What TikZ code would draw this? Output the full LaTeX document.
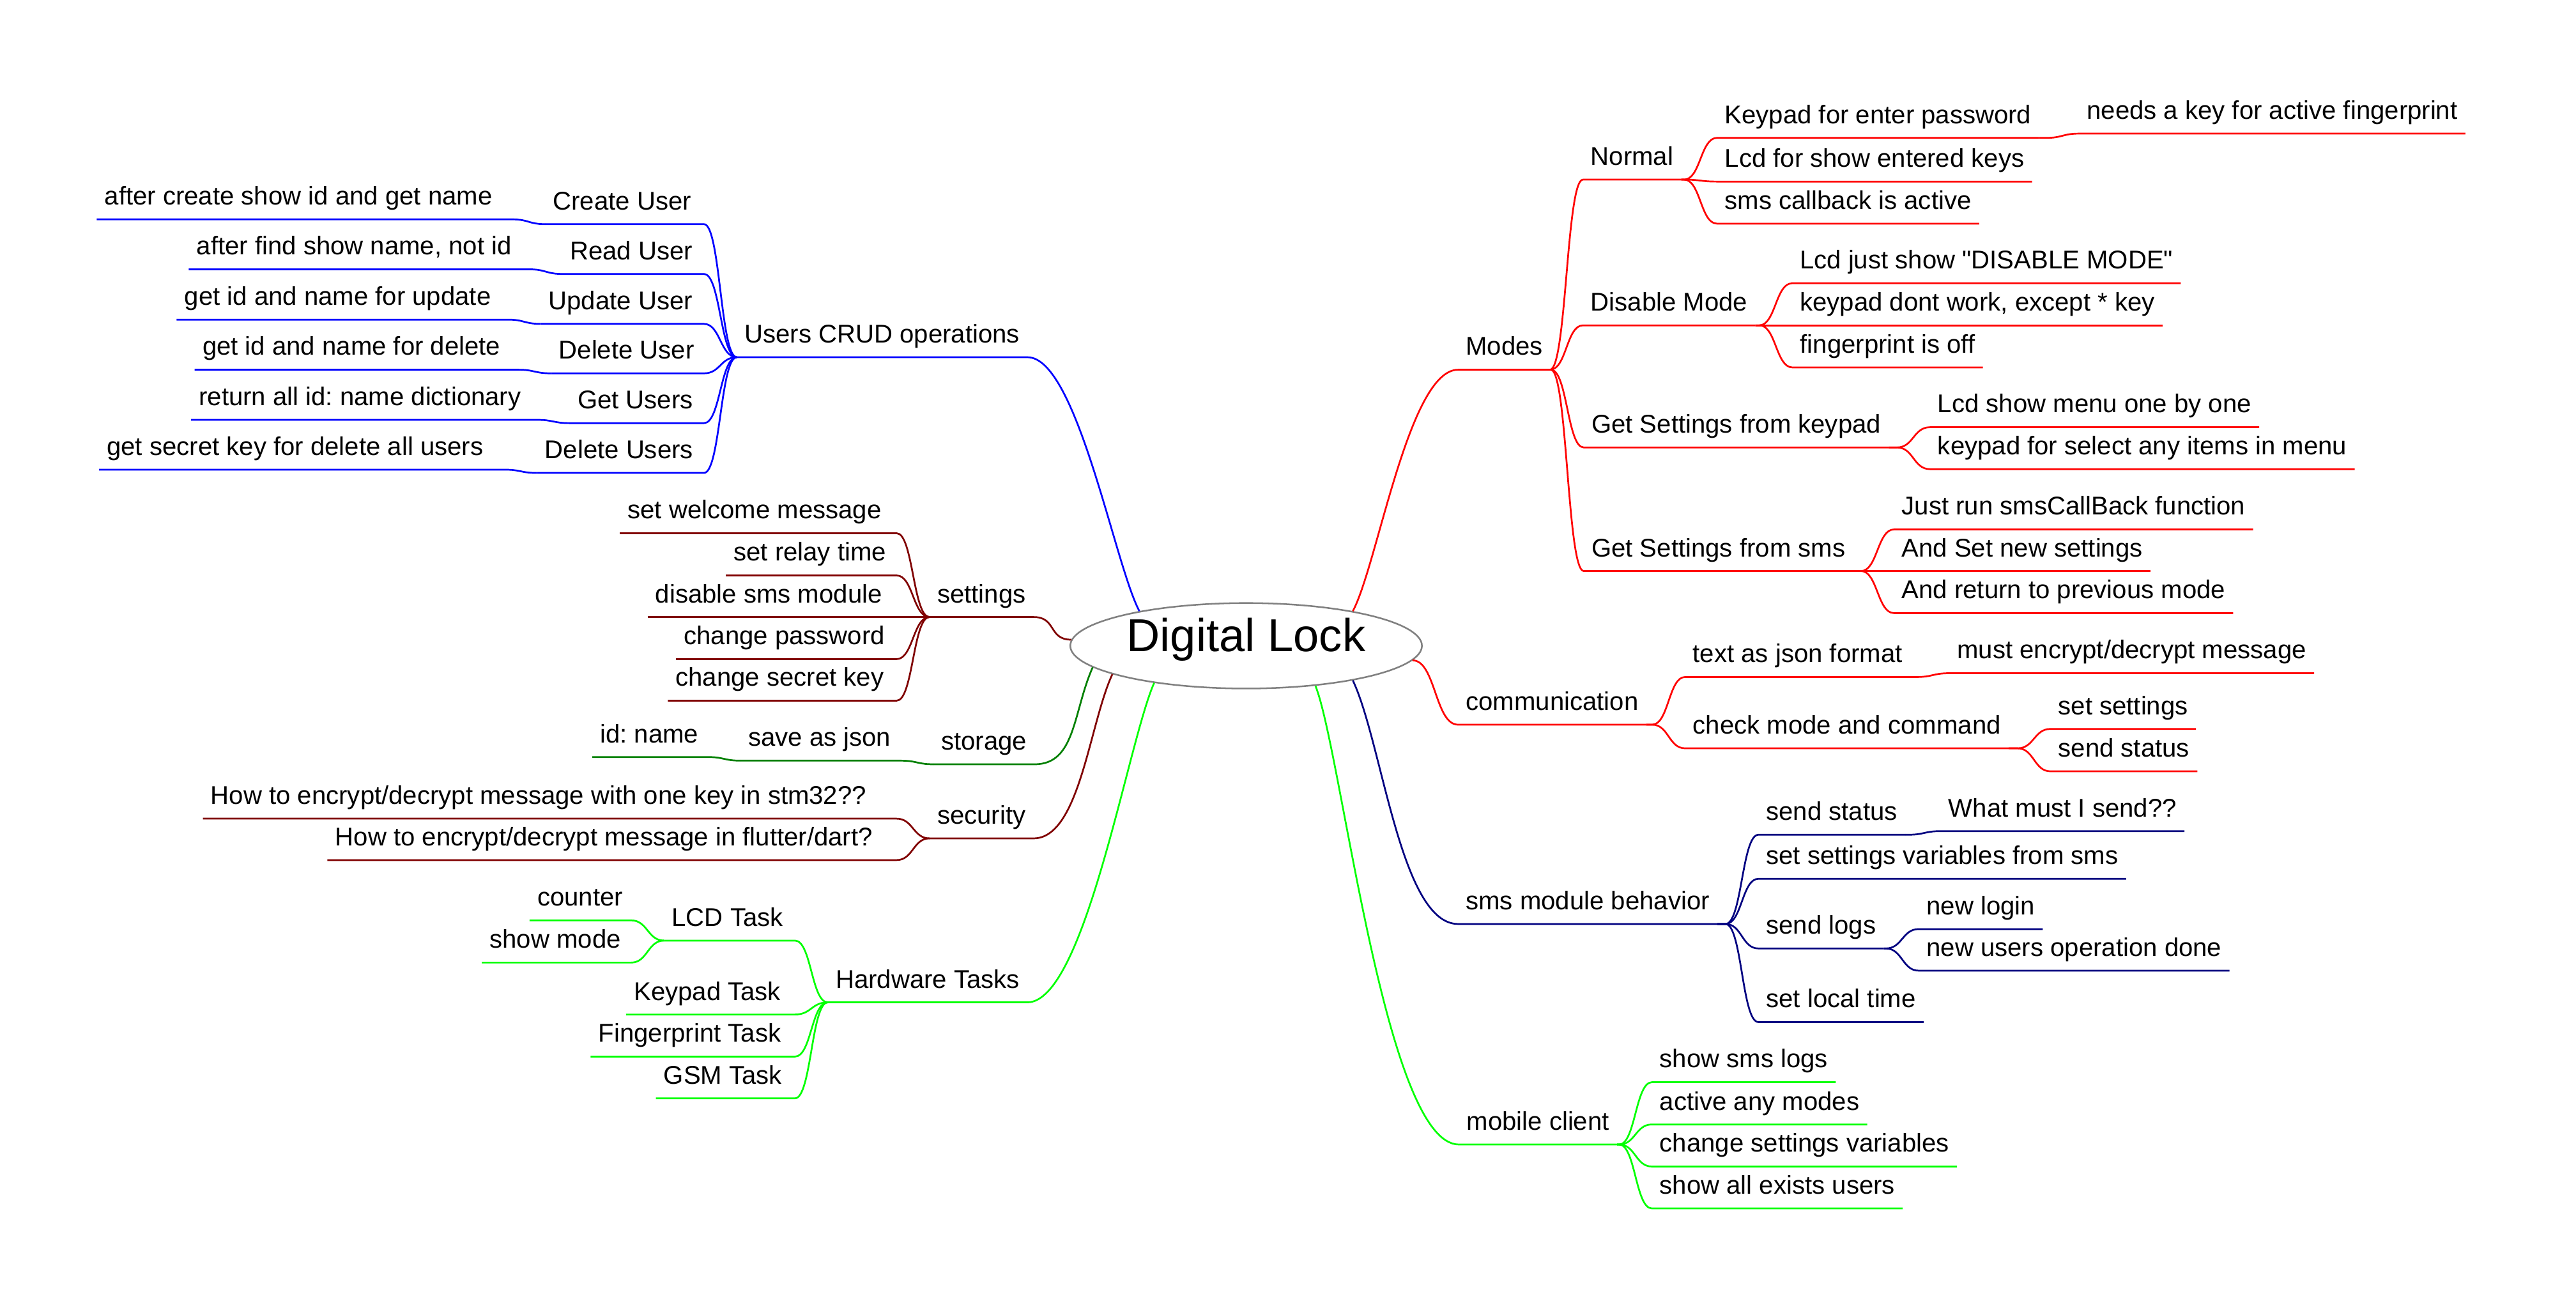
\documentclass[tikz,border=0pt]{standalone}
\usepackage{fontspec}
\setmainfont{Liberation Sans}[Ligatures=TeXOff]
\usetikzlibrary{shapes.geometric,calc}
\definecolor{mmblue}{RGB}{0,0,255}
\definecolor{mmred}{RGB}{255,0,0}
\definecolor{mmnavy}{RGB}{0,0,128}
\definecolor{mmlime}{RGB}{0,255,0}
\definecolor{mmgreen}{RGB}{0,128,0}
\definecolor{mmmaroon}{RGB}{128,0,0}
\newcommand{\topicfont}{\fontsize{11.1}{13}\selectfont\frenchspacing}
\tikzset{
  hub/.style={ellipse, draw=gray, fill=white, line width=0.7pt, inner sep=0pt,
    minimum width=5.35cm, minimum height=1.3cm, text height=14.6pt, text depth=9.4pt,
    font=\fontsize{20}{24}\selectfont},
  topic/.style={anchor=south west, inner xsep=0.1125cm, inner ysep=0.2125cm,
    text depth=0pt, xshift=-0.1125cm, font=\topicfont},
  rfork/.style={to path={let \p1=(\tikztostart), \p2=(\tikztotarget.south west) in
    -- (\x2-0.5cm,\y1) .. controls (\x2-0.25cm,\y1) and (\x2-0.25cm,\y2) .. (\p2)
    -- (\tikztotarget.south east)}},
  lfork/.style={to path={let \p1=(\tikztostart), \p2=(\tikztotarget.south east) in
    (\tikztotarget.south west) -- (\p2) -- (\x1-0.5cm,\y2)
    .. controls (\x1-0.25cm,\y2) and (\x1-0.25cm,\y1) .. (\p1)}},
  rmain/.style 2 args={to path={.. controls +(#1) and +(#2) .. (\tikztotarget.south west) -- (\tikztotarget.south east)}},
  lmain/.style 2 args={to path={.. controls +(#1) and +(#2) .. (\tikztotarget.south east) -- (\tikztotarget.south west)}}
}
\begin{document}
\begin{tikzpicture}[x=0.025cm, y=-0.025cm]
	\useasboundingbox (0,0) rectangle (1568,797);
	\node[hub] (lock) at (758.5,393) {Digital Lock};
	\begin{scope}[every node/.style={topic}]
		% right side
		\node (modes) at (892,225) {Modes};
		\node (normal) at (968,109.3) {Normal};
		\node (keypad) at (1049.6,83.9) {Keypad for enter password};
		\node (needs) at (1270,81.3) {needs a key for active fingerprint};
		\node (lcdkeys) at (1049.6,110.5) {Lcd for show entered keys};
		\node (callback) at (1049.6,136.1) {sms callback is active};
		\node (disable) at (968,198) {Disable Mode};
		\node (lcddis) at (1095.3,172.4) {Lcd just show "DISABLE MODE"};
		\node (keydis) at (1095.3,198) {keypad dont work, except * key};
		\node (fpoff) at (1095.5,223.6) {fingerprint is off};
		\node (setkey) at (968.5,272.3) {Get Settings from keypad};
		\node (menu) at (1179.2,260) {Lcd show menu one by one};
		\node (select) at (1179.2,285.5) {keypad for select any items in menu};
		\node (setsms) at (968.5,347.5) {Get Settings from sms};
		\node (callbackfn) at (1157.3,322.2) {Just run smsCallBack function};
		\node (newset) at (1157.3,347.5) {And Set new settings};
		\node (prevmode) at (1157.3,373.1) {And return to previous mode};
		\node (comm) at (892,441) {communication};
		\node (json) at (1030.2,412) {text as json format};
		\node (encrypt) at (1191,409.7) {must encrypt/decrypt message};
		\node (check) at (1030.2,455.4) {check mode and command};
		\node (setset) at (1252.6,443.6) {set settings};
		\node (sendstat) at (1252.6,469.4) {send status};
		\node (sms) at (892,562.3) {sms module behavior};
		\node (status) at (1074.8,508) {send status};
		\node (what) at (1185.8,505.8) {What must I send??};
		\node (vars) at (1074.8,534.8) {set settings variables from sms};
		\node (logs) at (1074.8,577.2) {send logs};
		\node (login) at (1172.4,565.4) {new login};
		\node (usersop) at (1172.4,590.7) {new users operation done};
		\node (time) at (1074.8,622) {set local time};
		\node (mobile) at (892.5,696.5) {mobile client};
		\node (smslogs) at (1010,658.6) {show sms logs};
		\node (anymode) at (1010,684.3) {active any modes};
		\node (changevars) at (1010,709.9) {change settings variables};
		\node (allusers) at (1010,735.4) {show all exists users};
		% left side
		\node (crud) at (453,217.4) {Users CRUD operations};
		\node (create) at (336.3,136.4) {Create User};
		\node (createn) at (63.4,133.5) {after create show id and get name};
		\node (read) at (346.7,166.7) {Read User};
		\node (readn) at (119.4,163.9) {after find show name, not id};
		\node (update) at (333.6,197.1) {Update User};
		\node (updaten) at (112,194.5) {get id and name for update};
		\node (delete) at (339.9,227.2) {Delete User};
		\node (deleten) at (123,225) {get id and name for delete};
		\node (getall) at (351.3,257.5) {Get Users};
		\node (getalln) at (120.8,255.5) {return all id: name dictionary};
		\node (delall) at (331.4,287.8) {Delete Users};
		\node (delalln) at (64.8,285.8) {get secret key for delete all users};
		\node (settings) at (570.3,375.5) {settings};
		\node (welcome) at (381.8,324.5) {set welcome message};
		\node (relay) at (446.3,350.2) {set relay time};
		\node (smsoff) at (398.7,375.5) {disable sms module};
		\node (passwd) at (416,401.1) {change password};
		\node (secret) at (411,426.4) {change secret key};
		\node (storage) at (572.7,465.1) {storage};
		\node (savejson) at (455.2,462.9) {save as json};
		\node (idname) at (365,460.7) {id: name};
		\node (security) at (570.3,510.2) {security};
		\node (stm) at (128,498.2) {How to encrypt/decrypt message with one key in stm32??};
		\node (flutter) at (203.8,523.4) {How to encrypt/decrypt message in flutter/dart?};
		\node (hw) at (508.4,610) {Hardware Tasks};
		\node (lcd) at (408.7,572.4) {LCD Task};
		\node (counter) at (326.8,560.1) {counter};
		\node (showmode) at (297.8,585.8) {show mode};
		\node (keypadt) at (385.6,617.4) {Keypad Task};
		\node (finger) at (364,643) {Fingerprint Task};
		\node (gsm) at (403.7,668.4) {GSM Task};
	\end{scope}
	\begin{scope}[line width=0.75pt, line join=round]
		% right side
		\path[mmred] (lock.18) edge[rmain={15,-28}{-30,0}] (modes)
			(lock.-5) edge[rmain={14,0}{-14,0}] (comm);
		\path[mmred] (modes.south east)
			edge[rfork] (normal)
			edge[rfork] (disable)
			edge[rfork] (setkey)
			edge[rfork] (setsms);
		\path[mmred] (normal.south east)
			edge[rfork] (keypad)
			edge[rfork] (lcdkeys)
			edge[rfork] (callback);
		\path[mmred] (keypad.south east) edge[rfork] (needs);
		\path[mmred] (disable.south east)
			edge[rfork] (lcddis)
			edge[rfork] (keydis)
			edge[rfork] (fpoff);
		\path[mmred] (setkey.south east)
			edge[rfork] (menu)
			edge[rfork] (select);
		\path[mmred] (setsms.south east)
			edge[rfork] (callbackfn)
			edge[rfork] (newset)
			edge[rfork] (prevmode);
		\path[mmred] (comm.south east)
			edge[rfork] (json)
			edge[rfork] (check);
		\path[mmred] (json.south east) edge[rfork] (encrypt);
		\path[mmred] (check.south east)
			edge[rfork] (setset)
			edge[rfork] (sendstat);
		\path[mmnavy] (lock.-18) edge[rmain={18,38}{-35,0}] (sms);
		\path[mmnavy] (sms.south east)
			edge[rfork] (status)
			edge[rfork] (vars)
			edge[rfork] (logs)
			edge[rfork] (time);
		\path[mmnavy] (status.south east) edge[rfork] (what);
		\path[mmnavy] (logs.south east)
			edge[rfork] (login)
			edge[rfork] (usersop);
		\path[mmlime] (lock.-30) edge[rmain={16,40}{-45,0}] (mobile);
		\path[mmlime] (mobile.south east)
			edge[rfork] (smslogs)
			edge[rfork] (anymode)
			edge[rfork] (changevars)
			edge[rfork] (allusers);
		% left side
		\path[mmblue] (lock.162) edge[lmain={-15,-28}{30,0}] (crud);
		\path[mmblue] (crud.south west)
			edge[lfork] (create)
			edge[lfork] (read)
			edge[lfork] (update)
			edge[lfork] (delete)
			edge[lfork] (getall)
			edge[lfork] (delall);
		\path[mmblue] (create.south west) edge[lfork] (createn);
		\path[mmblue] (read.south west) edge[lfork] (readn);
		\path[mmblue] (update.south west) edge[lfork] (updaten);
		\path[mmblue] (delete.south west) edge[lfork] (deleten);
		\path[mmblue] (getall.south west) edge[lfork] (getalln);
		\path[mmblue] (delall.south west) edge[lfork] (delalln);
		\path[mmmaroon] (lock.178) edge[lmain={-14,0}{14,0}] (settings);
		\path[mmmaroon] (settings.south west)
			edge[lfork] (welcome)
			edge[lfork] (relay)
			edge[lfork] (smsoff)
			edge[lfork] (passwd)
			edge[lfork] (secret);
		\path[mmgreen] (lock.188) edge[lmain={-12,27}{25,0}] (storage);
		\path[mmgreen] (storage.south west) edge[lfork] (savejson);
		\path[mmgreen] (savejson.south west) edge[lfork] (idname);
		\path[mmmaroon] (lock.192) edge[lmain={-14,30}{28,0}] (security);
		\path[mmmaroon] (security.south west)
			edge[lfork] (stm)
			edge[lfork] (flutter);
		\path[mmlime] (lock.202) edge[lmain={-16,36}{35,0}] (hw);
		\path[mmlime] (hw.south west)
			edge[lfork] (lcd)
			edge[lfork] (keypadt)
			edge[lfork] (finger)
			edge[lfork] (gsm);
		\path[mmlime] (lcd.south west)
			edge[lfork] (counter)
			edge[lfork] (showmode);
	\end{scope}
\end{tikzpicture}
\end{document}
